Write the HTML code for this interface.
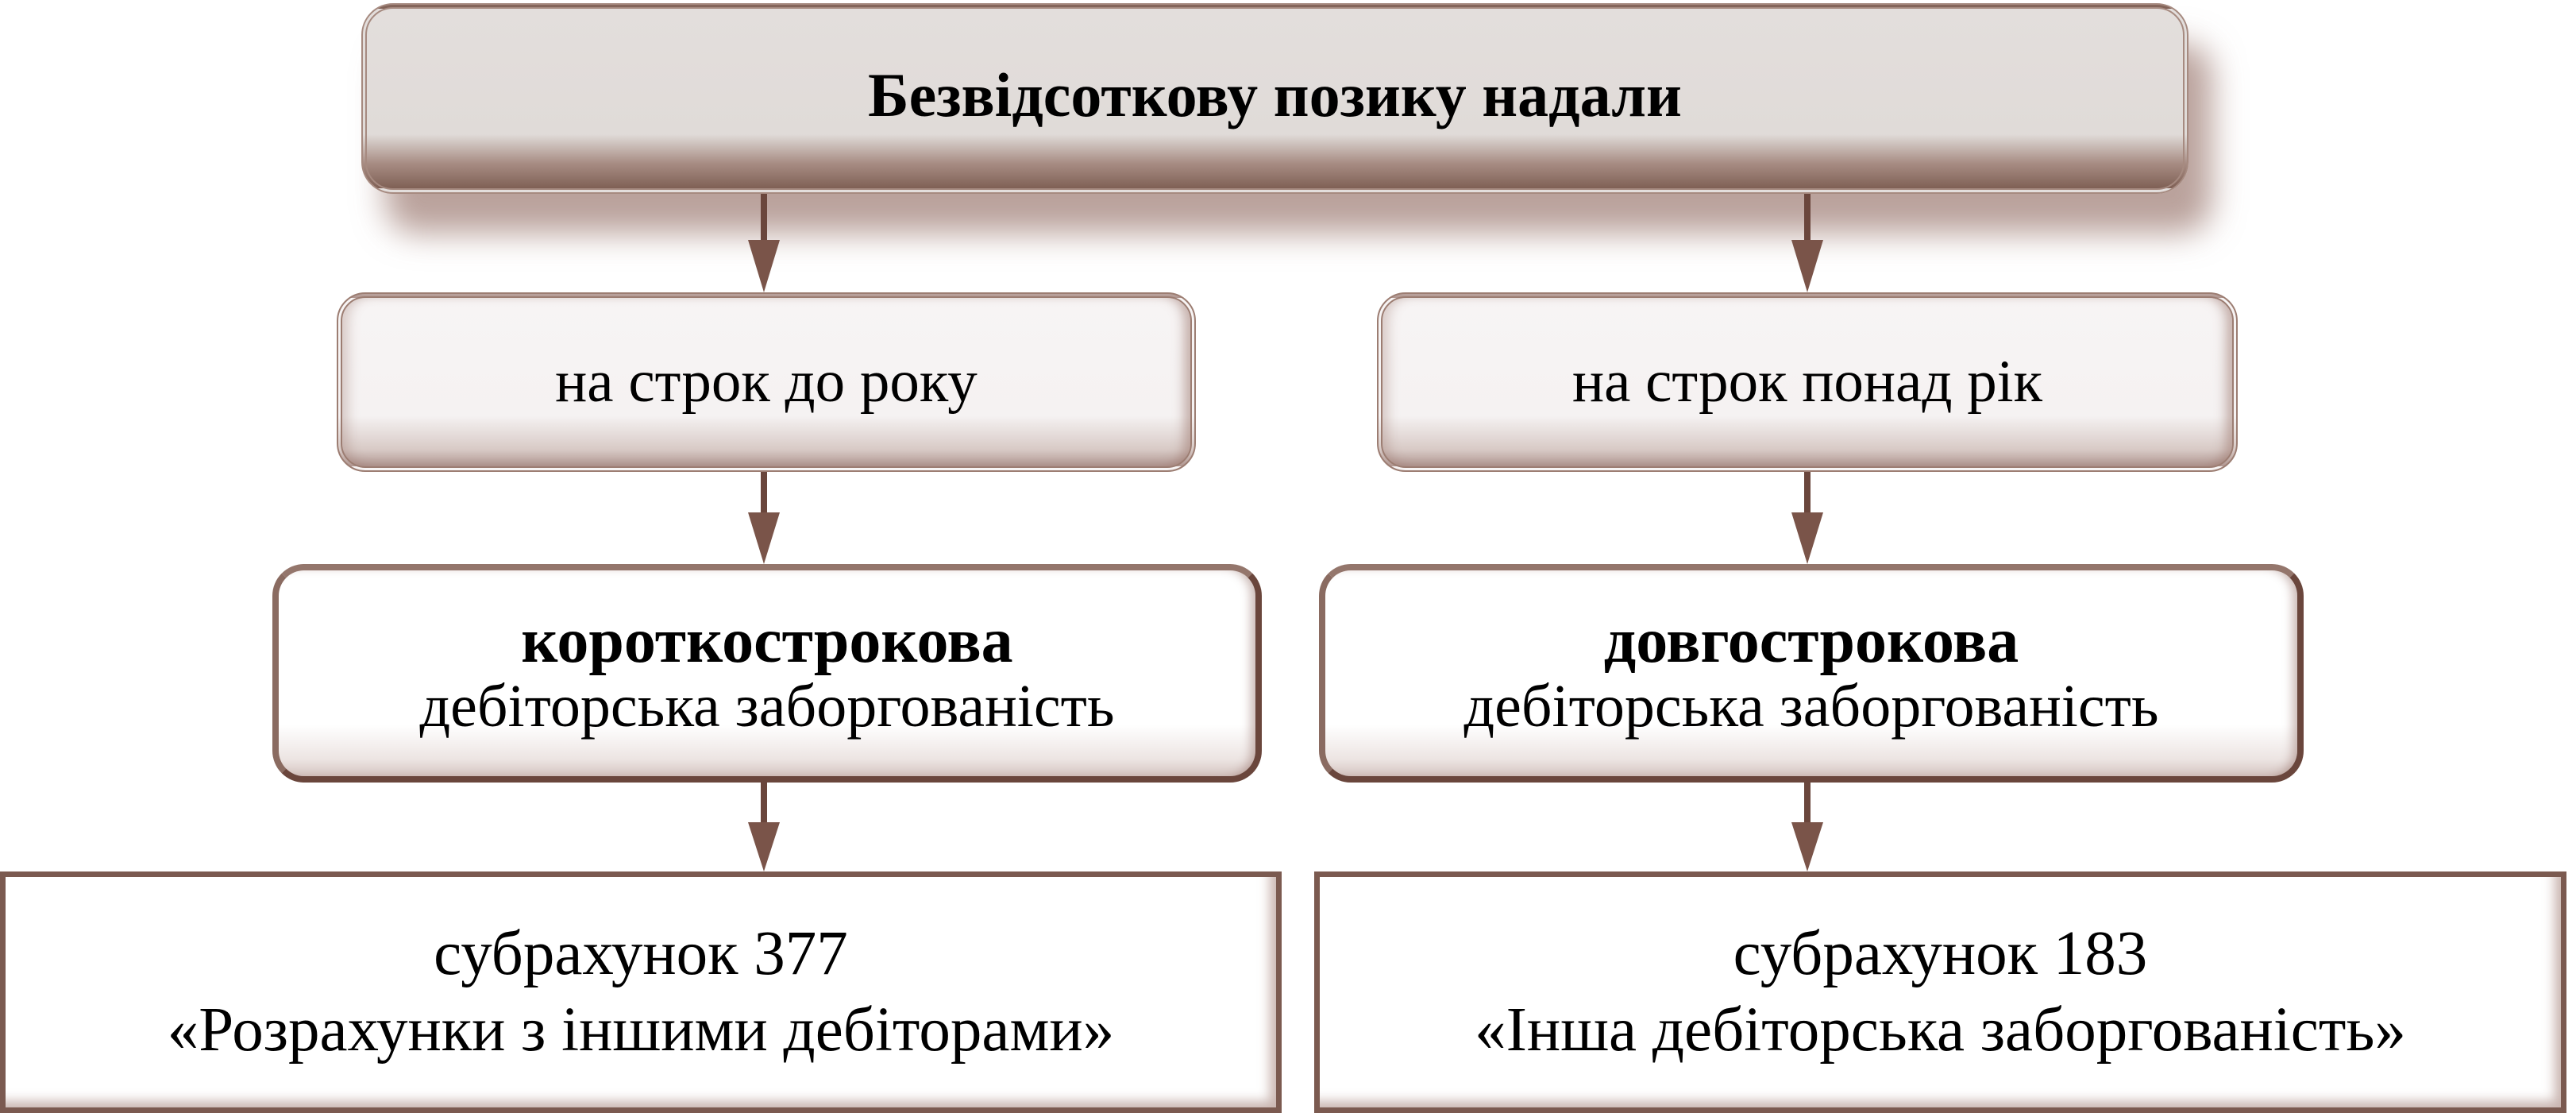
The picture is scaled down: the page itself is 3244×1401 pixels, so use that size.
<!DOCTYPE html>
<html><head><meta charset="utf-8"><style>
body{margin:0;width:3244px;height:1401px;background:#fff;position:relative;overflow:hidden;font-family:"Liberation Serif","DejaVu Serif",serif;color:#000}
.b{position:absolute;box-sizing:border-box;display:flex;flex-direction:column;align-items:center;justify-content:center;text-align:center}
.top{left:455px;top:4px;width:2301px;height:240px;border-radius:40px;border:7px double #a68a80;background:linear-gradient(#e3dedc 0%,#e0dbd8 70%,#a88d84 86%,#7f6055 100%);box-shadow:30px 50px 40px rgba(140,100,90,.6)}
.top span{font-weight:bold;font-size:78px;margin-top:-8px}
.m{top:368px;height:226px;border-radius:36px;border:7px double #9c7d72;background:linear-gradient(#f7f4f4 0%,#f5f2f2 70%,#d8cac6 90%,#b09690 100%);box-shadow:inset -14px 0 14px -6px rgba(150,110,100,.5),inset 14px 0 14px -6px rgba(150,110,100,.3);font-size:75px}
.s{top:710px;height:275px;border-radius:40px;border:8px solid #6a463c;border-top-color:#94766c;border-left-color:#8a6b61;background:linear-gradient(#fff 0%,#fff 75%,#ece4e2 92%,#d5c5c1 100%);box-shadow:inset -10px 0 12px -4px rgba(140,100,90,.45);font-size:76px;line-height:82px}
.s b{font-size:80px}
.r{top:1097px;height:304px;border:7px solid #7b5a50;background:#fff;box-shadow:inset -14px -14px 14px -6px rgba(150,110,100,.5);font-size:79px;line-height:96px}
</style></head><body>
<div class="b top"><span>Безвідсоткову позику надали</span></div>
<div class="b m" style="left:424px;width:1082px">на строк до року</div>
<div class="b m" style="left:1734px;width:1084px">на строк понад рік</div>
<div class="b s" style="left:343px;width:1246px"><b>короткострокова</b><div>дебіторська заборгованість</div></div>
<div class="b s" style="left:1661px;width:1240px"><b>довгострокова</b><div>дебіторська заборгованість</div></div>
<div class="b r" style="left:0;width:1614px"><div>субрахунок 377</div><div>«Розрахунки з іншими дебіторами»</div></div>
<div class="b r" style="left:1655px;width:1577px"><div>субрахунок 183</div><div>«Інша дебіторська заборгованість»</div></div>
<svg width="3244" height="1401" style="position:absolute;left:0;top:0" fill="#7a5449" stroke="#6a463c">
<g stroke-width="8">
<line x1="962" y1="244" x2="962" y2="310"/><line x1="2276" y1="244" x2="2276" y2="310"/>
<line x1="962" y1="594" x2="962" y2="650"/><line x1="2276" y1="594" x2="2276" y2="650"/>
<line x1="962" y1="985" x2="962" y2="1040"/><line x1="2276" y1="985" x2="2276" y2="1040"/>
</g>
<g stroke="none">
<polygon points="942,302 982,302 962,368"/><polygon points="2256,302 2296,302 2276,368"/>
<polygon points="942,645 982,645 962,710"/><polygon points="2256,645 2296,645 2276,710"/>
<polygon points="942,1035 982,1035 962,1097"/><polygon points="2256,1035 2296,1035 2276,1097"/>
</g>
</svg>
</body></html>
